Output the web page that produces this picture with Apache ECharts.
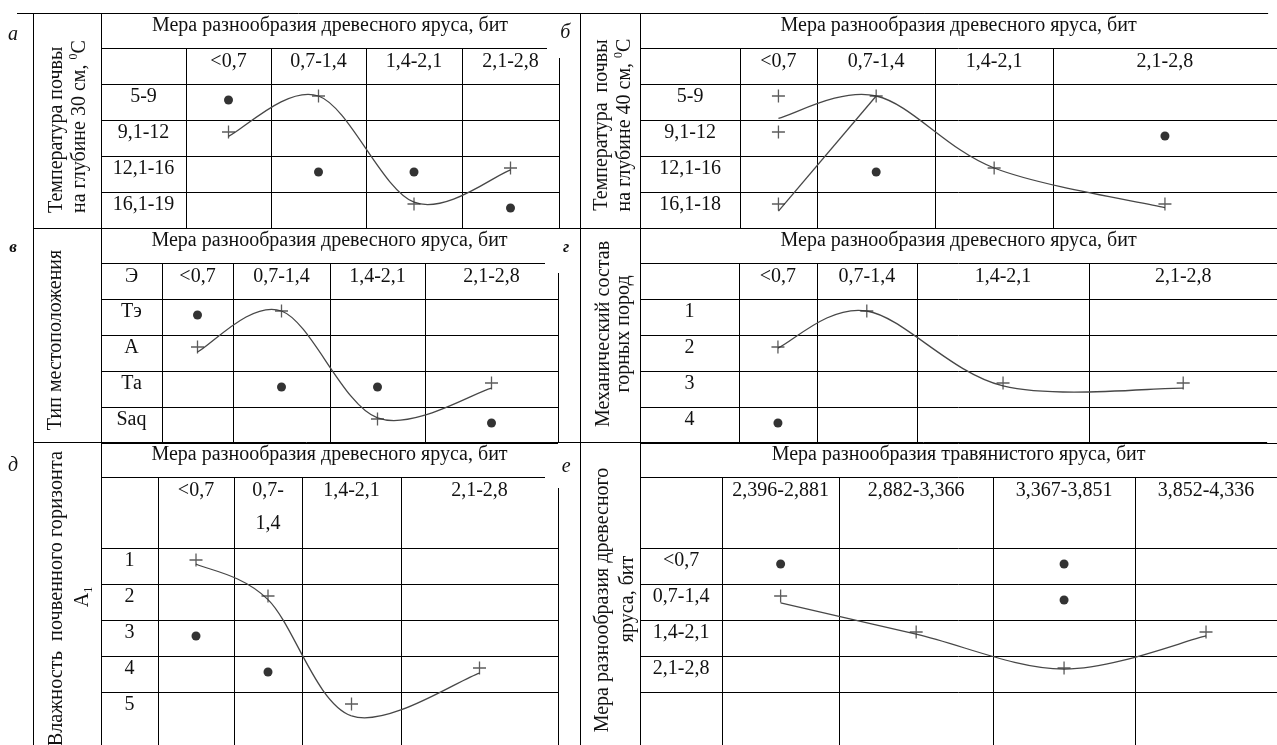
<!DOCTYPE html>
<html>
<head>
<meta charset="utf-8">
<title>Мера разнообразия древесного яруса</title>
<script src="https://cdn.jsdelivr.net/npm/echarts@6.0.0/dist/echarts.min.js"></script>
<style>
  html, body { margin: 0; padding: 0; background: #fff; }
  #chart { width: 1277px; height: 745px; }
</style>
</head>
<body>
<div id="chart"></div>
<script>
// заголовки и подписи таблиц
var titleWood = 'Мера разнообразия древесного яруса, бит';
var titleGrass = 'Мера разнообразия травянистого яруса, бит';
var woodCols = ['<0,7', '0,7-1,4', '1,4-2,1', '2,1-2,8'];
var woodColsNarrow = ['<0,7', '0,7-\n1,4', '1,4-2,1', '2,1-2,8'];
var grassCols = ['2,396-2,881', '2,882-3,366', '3,367-3,851', '3,852-4,336'];

var rowsA = ['5-9', '9,1-12', '12,1-16', '16,1-19'];
var rowsB = ['5-9', '9,1-12', '12,1-16', '16,1-18'];
var rowsV = ['Тэ', 'А', 'Та', 'Saq'];
var rowsG = ['1', '2', '3', '4'];
var rowsD = ['1', '2', '3', '4', '5'];
var rowsE = ['<0,7', '0,7-1,4', '1,4-2,1', '2,1-2,8', ''];

var sideA = ['Температура почвы', 'на глубине 30 см, {sup|0}С'];
var sideB = ['Температура  почвы', 'на глубине 40 см, {sup|0}С'];
var sideV = ['Тип местоположения'];
var sideG = ['Механический состав', 'горных пород'];
var sideD = ['Влажность  почвенного горизонта', 'A{sub|1}'];
var sideE = ['Мера разнообразия древесного', 'яруса, бит'];

// точки: [номер столбца, номер строки]
var dotsA = [[0, 0], [1, 2], [2, 2], [3, 3]];
var plusA = [[0, 1], [1, 0], [2, 3], [3, 2]];
var curveA = [[0, 1.12], [1, 0], [2, 2.95], [3, 2.05]];

var dotsB = [[3, 1], [1, 2]];
var plusB = [[0, 0], [1, 0], [0, 1], [2, 2], [0, 3], [3, 3]];
var curveB = [[0, 0.62], [1, 0], [2, 2], [3, 3.1]];
var lineB = [[0, 3.2], [1, 0]];

var dotsV = [[0, 0], [1, 2], [2, 2], [3, 3]];
var plusV = [[0, 1], [1, 0], [2, 3], [3, 2]];
var curveV = [[0, 1.14], [1, 0], [2, 2.97], [3, 2.14]];

var dotsG = [[0, 3]];
var plusG = [[0, 1], [1, 0], [2, 2], [3, 2]];
var curveG = [[0, 1.03], [1, 0], [2, 2.08], [3, 2.14]];

var dotsD = [[0, 2], [1, 3]];
var plusD = [[0, 0], [1, 1], [2, 4], [3, 3]];
var curveD = [[0, 0.11], [1, 1.1], [2, 4.33], [3, 3.14]];

var dotsE = [[0, 0], [2, 0], [2, 1]];
var plusE = [[0, 1], [1, 2], [2, 3], [3, 2]];
var curveE = [[0, 1.19], [1, 2.06], [2, 3.03], [3, 2.11]];

var FONT = '"Liberation Serif", "Times New Roman", serif';
var INK = '#111';
var CURVE = '#474747';
var PLUS = 'path://M5.4,0H6.6V5.4H12V6.6H6.6V12H5.4V6.6H0V5.4H5.4Z';

// разметка панелей (пиксели)
var panels = [
  { letter: 'а', letterAt: [13, 35], x0: 33, xL: 101, xR: 580,
    cols: [186, 271, 366, 462, 559], titleEnd: 547, rightTop: 58, topFrom: 17, topTo: 580,
    y0: 13, yT: 48, yH: 84, yB: 228, rowH: 36, rowLines: 4,
    title: titleWood, heads: woodCols, corner: '', rows: rowsA,
    side: sideA, sideAt: [[57, 213, 'left'], [80, 213, 'left']],
    dots: dotsA, plus: plusA, curves: [curveA], straight: [] },
  { letter: 'б', letterAt: [565, 33], x0: 580, xL: 641, xR: 1286,
    cols: [742, 820, 940, 1059, 1286], titleEnd: 1286, rightTop: 48, topFrom: 580, topTo: 1277,
    y0: 13, yT: 48, yH: 84, yB: 228, rowH: 36, rowLines: 4,
    title: titleWood, heads: woodCols, corner: '', rows: rowsB,
    side: sideB, sideAt: [[602, 125, 'center'], [625, 125, 'center']],
    dots: dotsB, plus: plusB, curves: [curveB], straight: [lineB] },
  { letter: 'в', letterAt: [13, 248], small: true, x0: 33, xL: 101, xR: 580,
    cols: [162, 233, 330, 425, 558], titleEnd: 545, rightTop: 273, topFrom: 33, topTo: 580,
    y0: 228, yT: 263, yH: 299, yB: 442, rowH: 36, rowLines: 4,
    title: titleWood, heads: woodCols, corner: 'Э', rows: rowsV,
    side: sideV, sideAt: [[56, 340, 'center']],
    dots: dotsV, plus: plusV, curves: [curveV], straight: [] },
  { letter: 'г', letterAt: [566, 248], small: true, x0: 580, xL: 641, xR: 1286,
    cols: [741, 820, 921, 1096, 1286], titleEnd: 1286, rightTop: 263, topFrom: 580, topTo: 1277,
    y0: 228, yT: 263, yH: 299, yB: 442, rowH: 36, rowLines: 4,
    title: titleWood, heads: woodCols, corner: '', rows: rowsG,
    side: sideG, sideAt: [[604, 334, 'center'], [624, 334, 'center']],
    dots: dotsG, plus: plusG, curves: [curveG], straight: [] },
  { letter: 'д', letterAt: [13, 466], x0: 33, xL: 101, xR: 580,
    cols: [158, 234, 302, 401, 558], titleEnd: 545, rightTop: 488, topFrom: 33, topTo: 580,
    y0: 442, yT: 477, yH: 548, yB: 745, rowH: 36, rowLines: 4,
    title: titleWood, heads: woodColsNarrow, corner: '', rows: rowsD,
    side: sideD, sideAt: [[57, 451, 'right', 20.3], [83, 597, 'center']],
    dots: dotsD, plus: plusD, curves: [curveD], straight: [] },
  { letter: 'е', letterAt: [566, 467], x0: 580, xL: 641, xR: 1287,
    cols: [724, 843, 999, 1143, 1287], titleEnd: 1287, rightTop: 477, topFrom: 580, topTo: 1277,
    y0: 442, yT: 477, yH: 548, yB: 745, rowH: 36, rowLines: 4,
    title: titleGrass, heads: grassCols, corner: '', rows: rowsE,
    side: sideE, sideAt: [[603, 600, 'center'], [628, 599, 'center']],
    dots: dotsE, plus: plusE, curves: [curveE], straight: [] }
];

// номер столбца -> координата оси x панели (центр столбца)
function colX(p, c) {
  var centers = [];
  for (var i = 0; i < p.cols.length - 1; i++) centers.push((p.cols[i] + p.cols[i + 1]) / 2 - p.x0);
  var i0 = Math.max(0, Math.min(centers.length - 2, Math.floor(c)));
  var t = c - i0;
  return centers[i0] + (centers[i0 + 1] - centers[i0]) * t;
}

function toAxis(p, pts) {
  return pts.map(function (d) { return [colX(p, d[0]), d[1]]; });
}

function tableRenderer(p) {
  return function (params, api) {
    var kids = [];
    function pt(X, Y) { return api.coord([X - p.x0, (Y - p.yH - 12) / p.rowH]); }
    function crisp(v) { return Math.round(v) + 0.5; }
    function hline(Y, xa, xb) {
      var a = pt(xa, Y), b = pt(xb, Y), y = crisp(a[1]);
      kids.push({ type: 'line', shape: { x1: a[0], y1: y, x2: b[0], y2: y }, style: { stroke: '#000', lineWidth: 1 } });
    }
    function vline(X, ya, yb) {
      var a = pt(X, ya), b = pt(X, yb), x = crisp(a[0]);
      kids.push({ type: 'line', shape: { x1: x, y1: a[1], x2: x, y2: b[1] }, style: { stroke: '#000', lineWidth: 1 } });
    }
    function text(X, Y, s, o) {
      o = o || {};
      var c = pt(X, Y);
      kids.push({
        type: 'text', x: c[0], y: c[1], rotation: o.rot || 0,
        style: {
          text: s, fill: INK, align: o.align || 'center', verticalAlign: o.va || 'middle',
          fontFamily: FONT, fontSize: o.size || 20,
          fontStyle: o.italic ? 'italic' : 'normal', fontWeight: o.bold ? 'bold' : 'normal',
          lineHeight: o.lh || 24,
          rich: {
            sup: { fontSize: 12, fontFamily: FONT, fill: INK, verticalAlign: 'top', lineHeight: 24 },
            sub: { fontSize: 12, fontFamily: FONT, fill: INK, verticalAlign: 'bottom', lineHeight: 24 }
          }
        }
      });
    }

    var last = p.cols[p.cols.length - 1];
    // рамка
    hline(p.y0, p.topFrom, p.topTo);
    vline(p.x0, p.y0, p.yB);
    vline(p.xL, p.y0, p.yB);
    hline(p.yT, p.xL, p.titleEnd);
    hline(p.yH, p.xL, last);
    for (var k = 1; k <= p.rowLines; k++) hline(p.yH + k * p.rowH, p.xL, last);
    for (var j = 0; j < p.cols.length - 1; j++) vline(p.cols[j], p.yT, p.yB);
    vline(last, p.rightTop, p.yB);

    // тексты
    text(p.letterAt[0], p.letterAt[1], p.letter, p.small ? { italic: true, bold: true, size: 17 } : { italic: true });
    text((p.xL + last) / 2, p.y0 + 13, p.title);
    for (j = 0; j < p.heads.length; j++) {
      text((p.cols[j] + p.cols[j + 1]) / 2, p.yT + 14 - 16.5, p.heads[j], { va: 'top', lh: 33 });
    }
    var rlX = (p.xL + p.cols[0]) / 2;
    if (p.corner) text(rlX, p.yT + 14, p.corner);
    for (j = 0; j < p.rows.length; j++) {
      if (p.rows[j]) text(rlX, p.yH + j * p.rowH + 13, p.rows[j]);
    }
    for (j = 0; j < p.side.length; j++) {
      var s = p.sideAt[j];
      text(s[0], s[1], p.side[j], { rot: Math.PI / 2, align: s[2], size: s[3] });
    }
    return { type: 'group', children: kids };
  };
}

// плавная кривая через опорные точки (кардинальный сплайн)
function curveRenderer(pts) {
  return function (params, api) {
    if (params.dataIndex !== 0) return;
    var P = pts.map(function (d) { return api.coord(d); });
    var kids = [];
    for (var i = 0; i < P.length - 1; i++) {
      var p0 = P[Math.max(0, i - 1)], p1 = P[i], p2 = P[i + 1], p3 = P[Math.min(P.length - 1, i + 2)];
      kids.push({
        type: 'bezierCurve',
        shape: {
          x1: p1[0], y1: p1[1], x2: p2[0], y2: p2[1],
          cpx1: p1[0] + (p2[0] - p0[0]) / 6, cpy1: p1[1] + (p2[1] - p0[1]) / 6,
          cpx2: p2[0] - (p3[0] - p1[0]) / 6, cpy2: p2[1] - (p3[1] - p1[1]) / 6
        },
        style: { stroke: CURVE, lineWidth: 1.3, fill: 'none' }
      });
    }
    return { type: 'group', children: kids };
  };
}

var grids = [], xAxes = [], yAxes = [], series = [];
panels.forEach(function (p, i) {
  grids.push({ left: p.x0, top: p.y0, width: p.xR - p.x0, height: p.yB - p.y0, containLabel: false });
  xAxes.push({ type: 'value', gridIndex: i, min: 0, max: p.xR - p.x0, show: false });
  yAxes.push({ type: 'value', gridIndex: i, inverse: true, show: false,
    min: (p.y0 - p.yH - 12) / p.rowH, max: (p.yB - p.yH - 12) / p.rowH });

  series.push({ type: 'custom', xAxisIndex: i, yAxisIndex: i, silent: true, z: 1,
    renderItem: tableRenderer(p), data: [[0, 0]] });

  p.curves.forEach(function (c) {
    var d = toAxis(p, c);
    series.push({ type: 'custom', xAxisIndex: i, yAxisIndex: i, silent: true, z: 2,
      renderItem: curveRenderer(d), data: d });
  });
  p.straight.forEach(function (c) {
    series.push({ type: 'line', xAxisIndex: i, yAxisIndex: i, data: toAxis(p, c), smooth: false,
      symbol: 'none', silent: true, z: 2, lineStyle: { color: CURVE, width: 1.3 } });
  });
  series.push({ type: 'scatter', xAxisIndex: i, yAxisIndex: i, data: toAxis(p, p.dots),
    symbol: 'circle', symbolSize: 9, symbolOffset: [0, 4], silent: true, z: 3,
    itemStyle: { color: '#000' } });
  series.push({ type: 'scatter', xAxisIndex: i, yAxisIndex: i, data: toAxis(p, p.plus),
    symbol: PLUS, symbolSize: 13, silent: true, z: 3,
    itemStyle: { color: '#333' } });
});

var chart = echarts.init(document.getElementById('chart'));
chart.setOption({
  animation: false,
  backgroundColor: '#fff',
  grid: grids,
  xAxis: xAxes,
  yAxis: yAxes,
  series: series
});
</script>
</body>
</html>
